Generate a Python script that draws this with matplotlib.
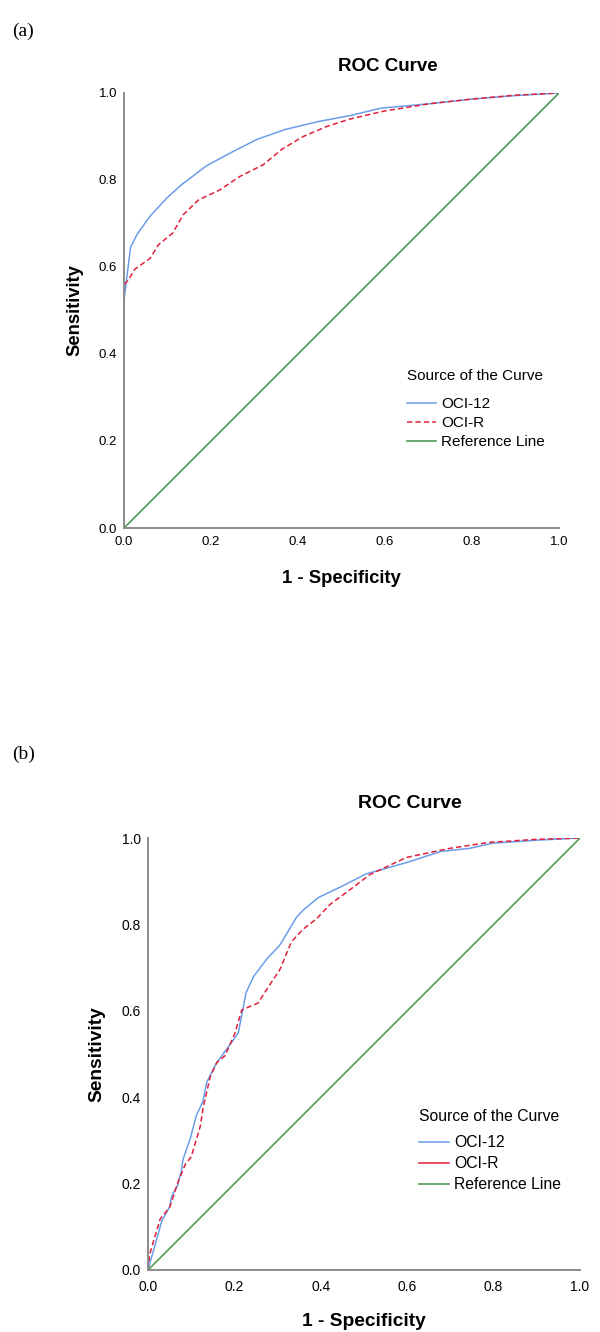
import matplotlib.pyplot as plt

plt.rcParams['font.family'] = ['Liberation Sans', 'DejaVu Sans']

# panel (a) curves
a_oci12_x = [0.0, 0.0, 0.015, 0.03, 0.06, 0.098, 0.132, 0.19, 0.25, 0.305, 0.37, 0.45, 0.52, 0.59, 0.7, 0.8, 0.9, 1.0]
a_oci12_y = [0.0, 0.524, 0.645, 0.675, 0.717, 0.758, 0.789, 0.833, 0.865, 0.893, 0.916, 0.935, 0.948, 0.965, 0.975, 0.986, 0.994, 1.0]
a_ocir_x = [0.0, 0.0, 0.01, 0.025, 0.06, 0.079, 0.112, 0.136, 0.171, 0.22, 0.266, 0.32, 0.362, 0.412, 0.466, 0.519, 0.596, 0.7, 0.8, 0.9, 1.0]
a_ocir_y = [0.0, 0.559, 0.57, 0.595, 0.62, 0.651, 0.678, 0.72, 0.754, 0.777, 0.808, 0.835, 0.87, 0.9, 0.923, 0.94, 0.958, 0.975, 0.986, 0.995, 1.0]

# panel (b) curves
b_oci12_x = [0.0, 0.032, 0.05, 0.055, 0.068, 0.077, 0.081, 0.098, 0.112, 0.127, 0.136, 0.159, 0.198, 0.209, 0.227, 0.244, 0.275, 0.305, 0.344, 0.359, 0.394, 0.452, 0.505, 0.598, 0.678, 0.744, 0.798, 0.9, 1.0]
b_oci12_y = [0.0, 0.114, 0.146, 0.171, 0.195, 0.228, 0.256, 0.305, 0.358, 0.39, 0.435, 0.48, 0.533, 0.549, 0.642, 0.679, 0.72, 0.752, 0.817, 0.833, 0.862, 0.89, 0.917, 0.943, 0.969, 0.976, 0.988, 0.995, 1.0]
b_ocir_x = [0.0, 0.004, 0.028, 0.05, 0.06, 0.068, 0.086, 0.1, 0.121, 0.128, 0.144, 0.159, 0.178, 0.2, 0.217, 0.255, 0.275, 0.305, 0.332, 0.359, 0.39, 0.421, 0.467, 0.513, 0.598, 0.698, 0.79, 0.9, 1.0]
b_ocir_y = [0.0, 0.037, 0.118, 0.145, 0.175, 0.2, 0.244, 0.262, 0.333, 0.378, 0.447, 0.48, 0.496, 0.545, 0.602, 0.618, 0.65, 0.695, 0.76, 0.789, 0.813, 0.846, 0.88, 0.915, 0.955, 0.976, 0.99, 0.997, 1.0]

ticks = [0.0, 0.2, 0.4, 0.6, 0.8, 1.0]
tick_labels = ['0.0', '0.2', '0.4', '0.6', '0.8', '1.0']

blue = '#6b9de8'
red = '#e0203c'
green = '#4f9a55'

fig = plt.figure(figsize=(6, 13.32), dpi=100)
ax_a = fig.add_axes([0.2067, 0.6036, 0.725, 0.3266])
ax_b = fig.add_axes([0.2467, 0.04655, 0.72, 0.3243])


def draw_roc(ax, x12, y12, xr, yr, solid_legend, leg_pos, sz):
    # sz: settings for this panel (font sizes, offsets in axes fractions)
    ax.plot(x12, y12, color=blue, lw=1.1, label='OCI-12')
    ax.plot(xr, yr, color=red, lw=1.1, ls=(0, (3.5, 2)), label='OCI-R')
    ax.plot([0, 1], [0, 1], color=green, lw=1.2, label='Reference Line')
    ax.set_xlim(0, 1)
    ax.set_ylim(0, 1)
    ax.set_xticks(ticks, tick_labels)
    ax.set_yticks(ticks, tick_labels)
    ax.tick_params(length=0, labelsize=sz['tick'])
    ax.tick_params(axis='x', pad=sz['xpad'])
    ax.tick_params(axis='y', pad=5)
    for s in ['top', 'right']:
        ax.spines[s].set_visible(False)
    for s in ['left', 'bottom']:
        ax.spines[s].set_color('#8c8c8c')
        ax.spines[s].set_linewidth(1.4)
    ax.text(0.607, 1 + sz['title_off'], 'ROC Curve', transform=ax.transAxes,
            ha='center', va='center', fontweight='bold', fontsize=sz['title'])
    ax.set_xlabel('1 - Specificity', fontweight='bold', fontsize=sz['label'], va='center')
    ax.set_ylabel('Sensitivity', fontweight='bold', fontsize=sz['label'], va='center')
    ax.xaxis.set_label_coords(0.5, -sz['xlab_off'])
    ax.yaxis.set_label_coords(-sz['ylab_off'], 0.5)
    leg = ax.legend(loc='upper left', bbox_to_anchor=leg_pos, frameon=False,
                    title='Source of the Curve', fontsize=sz['legend'],
                    title_fontsize=sz['legend'], alignment='left',
                    handlelength=1.9, handletextpad=0.33,
                    labelspacing=sz['lspace'], borderaxespad=0, borderpad=0)
    leg._legend_box.sep = sz['sep']
    if solid_legend:
        leg.get_lines()[1].set_linestyle('-')


size_a = dict(tick=9.5, xpad=6, title=13.5, title_off=0.06, label=13.3,
              xlab_off=0.115, ylab_off=0.113, legend=11, lspace=0.33, sep=10)
size_b = dict(tick=10, xpad=7, title=14, title_off=0.08, label=13.8,
              xlab_off=0.12, ylab_off=0.118, legend=11.3, lspace=0.38, sep=8)

draw_roc(ax_a, a_oci12_x, a_oci12_y, a_ocir_x, a_ocir_y, False, (0.651, 0.365), size_a)
draw_roc(ax_b, b_oci12_x, b_oci12_y, b_ocir_x, b_ocir_y, True, (0.627, 0.372), size_b)

fig.text(0.02, 0.983, '(a)', family='Liberation Serif', fontsize=14, va='top')
fig.text(0.02, 0.44, '(b)', family='Liberation Serif', fontsize=14, va='top')

fig.savefig('out.png', dpi=100)
